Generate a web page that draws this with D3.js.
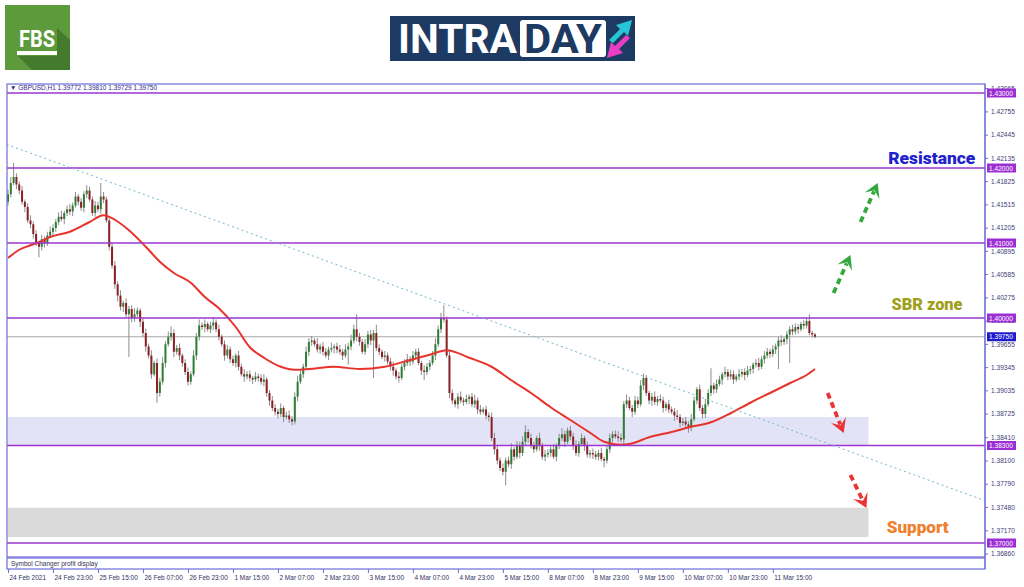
<!DOCTYPE html>
<html>
<head>
<meta charset="utf-8">
<script src="https://cdnjs.cloudflare.com/ajax/libs/d3/7.8.5/d3.min.js"></script>
<style>
body{margin:0;background:#fff;}
svg{display:block;}
</style>
</head>
<body>
<div id="chart"></div>
<script>
//GBPUSD H1 closes, in pips above 1.37000, one per bar (24 Feb 07:00 -> 12 Mar 06:00)
var firstOpen = 455;
var closes = [
465,480,488,478,470,455,448,430,425,412,400,395,405,400,410,415,
420,428,435,432,440,445,442,450,462,455,447,465,470,458,440,450,
445,462,458,430,395,370,345,330,315,320,305,312,300,305,310,295,
280,262,250,225,240,200,215,240,265,275,280,255,260,250,240,228,
215,225,250,275,290,288,292,285,290,294,285,275,265,250,258,245,
240,250,235,225,222,225,220,218,222,220,215,218,200,190,180,175,
172,180,168,170,165,162,195,215,225,235,255,268,270,265,258,262,
255,250,258,260,262,258,255,250,258,262,270,285,275,268,255,265,
278,270,280,260,255,248,250,242,235,230,222,220,235,240,245,242,
250,255,240,230,228,235,240,250,265,285,300,298,250,200,190,185,
195,190,188,192,195,185,190,178,175,178,170,168,140,125,110,100,
95,110,105,125,115,130,120,135,148,140,130,125,140,130,115,118,
120,125,115,130,140,145,135,150,142,130,120,132,140,130,118,120,
118,115,120,112,110,125,140,145,142,140,138,185,190,180,175,190,
185,210,220,200,190,195,188,192,190,180,185,178,175,170,168,160,
162,158,155,165,190,205,180,172,185,200,210,205,212,218,225,228,
222,225,218,222,225,228,224,230,232,238,240,235,245,250,255,252,
258,262,270,268,272,278,285,282,288,285,292,290,296,280,278,275];

//upper wick above the body, in pips
var wickUp = [
6,8,19,5,4,6,3,5,7,4,5,3,6,4,5,7,
5,4,6,8,3,5,7,4,6,3,5,4,7,5,4,6,
5,18,6,4,3,5,6,4,7,3,6,4,5,8,4,3,
5,6,4,7,3,6,5,8,4,7,9,5,4,6,3,5,
6,4,7,5,8,4,6,3,5,7,4,6,3,5,6,4,
5,3,6,4,7,4,5,3,6,4,5,7,3,4,6,5,
4,6,3,5,7,4,6,8,5,4,7,5,6,3,8,4,
6,5,4,7,3,5,6,4,7,5,8,6,20,5,4,7,
5,6,4,11,5,3,6,4,5,7,3,6,4,5,7,4,
6,4,5,3,7,5,4,6,8,5,7,17,4,6,5,3,
5,7,4,6,3,5,8,4,6,3,5,4,6,7,5,4,
6,4,5,8,3,6,5,7,9,4,6,5,3,7,4,6,
5,4,7,3,6,8,5,4,6,5,7,4,6,3,5,4,
6,5,4,7,3,5,6,4,5,7,6,4,8,5,4,6,
5,7,6,4,3,5,7,4,6,5,3,6,4,5,7,4,
5,6,4,7,5,3,6,4,7,5,23,4,6,5,3,7,
4,6,5,3,7,4,5,6,4,3,5,7,4,6,5,4,
6,4,5,7,3,5,4,6,5,4,3,5,4,9,3,2];

//lower wick below the body, in pips
var wickDn = [
5,4,3,6,5,4,7,3,5,6,4,14,5,6,4,3,
6,5,4,3,7,4,5,6,3,5,4,6,5,3,4,5,
4,6,5,3,5,4,6,8,5,7,4,57,6,5,4,7,
5,7,4,6,3,13,5,4,6,3,5,7,4,6,5,4,
5,4,3,6,5,4,7,3,5,6,4,5,3,7,4,5,
4,6,5,3,7,4,5,6,3,5,4,6,5,7,4,5,
6,4,7,3,5,5,4,6,3,5,4,6,5,3,4,6,
5,3,6,4,7,5,4,6,3,20,5,4,6,5,3,4,
5,6,50,4,5,3,6,4,5,7,4,6,3,5,4,6,
4,5,3,6,11,4,5,3,6,4,5,4,3,7,5,4,
6,4,5,3,7,4,5,6,4,3,5,6,4,7,5,4,
5,18,4,6,5,3,7,4,5,6,4,5,3,7,4,6,
4,5,3,6,5,4,7,3,5,6,4,5,3,7,4,5,
6,4,5,3,9,4,5,6,3,5,4,6,5,3,7,4,
5,3,6,4,5,7,4,5,3,6,4,5,3,7,4,6,
4,5,8,6,3,5,4,6,5,3,4,6,5,3,7,4,
5,4,6,3,5,4,7,3,5,6,4,5,3,6,4,5,
4,6,30,5,4,7,38,5,4,6,3,5,4,3,4,2];

//red moving average, read at these bars (pips above 1.37000)
var maBars = [0,4,8,11,15,22,29,34,38,43,49,54,59,65,70,75,81,86,91,97,102,107,116,125,134,143,150,156,164,172,179,186,193,200,207,212,218,221,228,236,243,250,257,264,271,278,284,287];
var maPips = [380,391,397,401,408,415,428,437,431,417,395,375,360,347,328,313,288,261,247,235,231,232,235,232,235,244,251,257,247,235,217,200,181,164,147,135,131,132,141,148,155,161,173,187,200,213,224,232];

var tickPrices = [1.43065,1.42755,1.42445,1.42135,1.41825,1.41515,1.41205,1.40895,1.40585,1.40275,1.39965,1.39655,1.39345,1.39035,1.38725,1.38410,1.38100,1.37790,1.37480,1.37170,1.36860];
var levels = [1.43,1.42,1.41,1.40,1.383,1.37];
var lastPrice = 1.3975;
var timeBars = [0,16,32,48,64,80,96,112,128,144,160,176,192,208,224,240,256,272];
var timeLabels = ["24 Feb 2021","24 Feb 23:00","25 Feb 15:00","26 Feb 07:00","26 Feb 23:00","1 Mar 15:00","2 Mar 07:00","2 Mar 23:00","3 Mar 15:00","4 Mar 07:00","4 Mar 23:00","5 Mar 15:00","8 Mar 07:00","8 Mar 23:00","9 Mar 15:00","10 Mar 07:00","10 Mar 23:00","11 Mar 15:00"];

//zones and trend line
var blueZone = [1.3830,1.3868];
var greyZone = [1.3708,1.3747];
var zoneEndBar = 306;
var trendBars = [-0.5,348];
var trendPrices = [1.42314,1.37557];

//dashed arrows: [bar0, price0, bar1, price1]
var greenArrows = [[293.6,1.40333,299.6,1.40840],[303.2,1.41280,309.3,1.41800]];
var redArrows = [[291.5,1.39000,297.2,1.38467],[299.6,1.37907,305.3,1.37467]];

var width = 1024, height = 587;
var svg = d3.select("#chart").append("svg")
.attr("width", width)
.attr("height", height);

var x = d3.scaleLinear().domain([0,287]).range([8,815]);
var y = d3.scaleLinear().domain([1.37,1.43]).range([543,93]);
var pip = function(p){ return 1.37 + p/10000; };

//plot window edges (window.top is reserved, so own names)
var pLeft = 7, pRight = 985, pTop = 84, pBottom = 557;

svg.append("clipPath").attr("id","plot")
.append("rect")
.attr("x",pLeft).attr("y",pTop)
.attr("width",pRight-pLeft).attr("height",pBottom-pTop);

var plot = svg.append("g").attr("clip-path","url(#plot)");

//zones
plot.append("rect")
.attr("x",pLeft+1).attr("y",y(blueZone[1]))
.attr("width",x(zoneEndBar)-pLeft-1)
.attr("height",y(blueZone[0])-y(blueZone[1]))
.style("fill","#e3e3f7");
plot.append("rect")
.attr("x",pLeft+1).attr("y",y(greyZone[1]))
.attr("width",x(zoneEndBar)-pLeft-1)
.attr("height",y(greyZone[0])-y(greyZone[1]))
.style("fill","#dadada");

//current price line
plot.append("line")
.attr("x1",pLeft).attr("x2",pRight)
.attr("y1",y(lastPrice)).attr("y2",y(lastPrice))
.style("stroke","#a8a8a8").style("stroke-width",1);

//build the candles
var bars = closes.map(function(c,i){
	var o = i==0 ? firstOpen : closes[i-1];
	return {i:i, o:pip(o), c:pip(c), h:pip(Math.max(o,c)+wickUp[i]), l:pip(Math.min(o,c)-wickDn[i])};
});

var candle = plot.append("g").selectAll("g")
.data(bars).enter().append("g");
candle.append("line")
.attr("x1",function(d){ return x(d.i); })
.attr("x2",function(d){ return x(d.i); })
.attr("y1",function(d){ return y(d.h); })
.attr("y2",function(d){ return y(d.l); })
.style("stroke","#8c8c8c").style("stroke-width",1);
candle.append("rect")
.attr("x",function(d){ return x(d.i)-1; })
.attr("width",2)
.attr("y",function(d){ return y(Math.max(d.o,d.c)); })
.attr("height",function(d){ return Math.max(1, Math.abs(y(d.o)-y(d.c))); })
.style("fill",function(d){ return d.c>=d.o ? "#2f7d34" : "#8a1f24"; });

//moving average
var ma = maBars.map(function(b,i){ return [b, pip(maPips[i])]; });
plot.append("path")
.datum(ma)
.attr("d", d3.line().x(function(d){ return x(d[0]); }).y(function(d){ return y(d[1]); }).curve(d3.curveMonotoneX))
.style("fill","none").style("stroke","#e8322c").style("stroke-width",2);

//horizontal levels
plot.selectAll(".level").data(levels).enter().append("line")
.attr("x1",pLeft).attr("x2",pRight)
.attr("y1",function(d){ return y(d); })
.attr("y2",function(d){ return y(d); })
.style("stroke","#9a36cf").style("stroke-width",1.6);

//trend line
plot.append("line")
.attr("x1",x(trendBars[0])).attr("y1",y(trendPrices[0]))
.attr("x2",x(trendBars[1])).attr("y2",y(trendPrices[1]))
.style("stroke","#74b6cc").style("stroke-width",1)
.style("stroke-dasharray","2,3");

//dashed arrows
function arrow(a, color){
	var x0 = x(a[0]), y0 = y(a[1]), x1 = x(a[2]), y1 = y(a[3]);
	var ang = Math.atan2(y1-y0, x1-x0);
	var bx = x1 - 9*Math.cos(ang), by = y1 - 9*Math.sin(ang);
	plot.append("line")
	.attr("x1",x0).attr("y1",y0).attr("x2",bx).attr("y2",by)
	.style("stroke",color).style("stroke-width",3.8)
	.style("stroke-dasharray","6,4");
	var pts = [[0,0],[-14,-8],[-8,0],[-14,8]].map(function(p){
		return [x1 + p[0]*Math.cos(ang) - p[1]*Math.sin(ang), y1 + p[0]*Math.sin(ang) + p[1]*Math.cos(ang)];
	});
	plot.append("polygon")
	.attr("points",pts.map(function(p){ return p.join(","); }).join(" "))
	.style("fill",color);
}
greenArrows.forEach(function(a){ arrow(a,"#33a83e"); });
redArrows.forEach(function(a){ arrow(a,"#ea3434"); });

//annotation texts
var notes = [
	{text:"Resistance", bar:344, price:1.4205, anchor:"end", color:"#2222cc", len:87},
	{text:"SBR zone", bar:314.2, price:1.4011, anchor:"start", color:"#9f9f1c", len:71},
	{text:"Support", bar:312.5, price:1.3714, anchor:"start", color:"#f0802e", len:62}
];
svg.selectAll(".note").data(notes).enter().append("text")
.attr("x",function(d){ return x(d.bar); })
.attr("y",function(d){ return y(d.price); })
.attr("text-anchor",function(d){ return d.anchor; })
.attr("textLength",function(d){ return d.len; })
.attr("lengthAdjust","spacingAndGlyphs")
.style("font-family","Roboto, sans-serif")
.style("font-weight","900")
.style("font-size","17px")
.style("fill",function(d){ return d.color; })
.text(function(d){ return d.text; });

//frame
svg.append("rect")
.attr("x",pLeft).attr("y",pTop)
.attr("width",pRight-pLeft).attr("height",pBottom-pTop)
.style("fill","none").style("stroke","#6d6ddc").style("stroke-width",1.2);
svg.append("rect")
.attr("x",pLeft).attr("y",pBottom+1)
.attr("width",pRight-pLeft).attr("height",11)
.style("fill","none").style("stroke","#6d6ddc").style("stroke-width",1.2);
svg.append("text")
.attr("x",11).attr("y",pBottom+9)
.style("font-family","Liberation Sans, sans-serif").style("font-size","6.5px")
.style("fill","#333355")
.text("Symbol Changer profit display");

//header
svg.append("text")
.attr("x",10).attr("y",90)
.style("font-family","Liberation Sans, sans-serif").style("font-size","6.5px")
.style("fill","#2c2c88")
.text("\u25BC GBPUSD,H1  1.39772 1.39810 1.39729 1.39750");

//price axis
var yAxis = svg.append("g")
.attr("transform","translate("+pRight+",0)")
.call(d3.axisRight(y).tickValues(tickPrices).tickFormat(d3.format(".5f")).tickSize(3).tickPadding(3));
yAxis.select(".domain").attr("d","M0,"+pTop+"V"+(pBottom+12)).style("stroke","#6d6ddc");
yAxis.selectAll(".tick line").style("stroke","#6d6ddc");
yAxis.selectAll(".tick text")
.style("font-family","Liberation Sans, sans-serif").style("font-size","6.6px")
.style("fill","#3c3c78");

//level labels
var tags = levels.map(function(d){ return {v:d, c:"#9c2fd4"}; }).concat([{v:lastPrice, c:"#1c1ccc"}]);
var tag = svg.selectAll(".tag").data(tags).enter().append("g")
.attr("transform",function(d){ return "translate("+(pRight+2)+","+y(d.v)+")"; });
tag.append("rect")
.attr("x",0).attr("y",-4.5).attr("width",29).attr("height",9)
.style("fill",function(d){ return d.c; });
tag.append("text")
.attr("x",2).attr("y",2.5)
.style("font-family","Liberation Sans, sans-serif").style("font-size","6.6px")
.style("fill","#fff")
.text(function(d){ return d3.format(".5f")(d.v); });

//time axis
var xAxis = svg.append("g")
.attr("transform","translate(0,"+(pBottom+12)+")")
.call(d3.axisBottom(x).tickValues(timeBars).tickFormat(function(d,i){ return timeLabels[i]; }).tickSize(4));
xAxis.select(".domain").remove();
xAxis.selectAll(".tick line").style("stroke","#6d6ddc");
xAxis.selectAll(".tick text")
.attr("text-anchor","start").attr("x",1).attr("y",6)
.style("font-family","Liberation Sans, sans-serif").style("font-size","6.5px")
.style("fill","#333366");

//FBS logo
var fbs = svg.append("g");
fbs.append("rect").attr("x",5).attr("y",5).attr("width",65).attr("height",65).style("fill","#5d9a3c");
fbs.append("polygon").attr("points","18,56 57,56 57,28 70,40 70,70 32,70").style("fill","#447a2c");
fbs.append("text").attr("x",37).attr("y",47).attr("text-anchor","middle")
.style("font-family","Roboto, sans-serif").style("font-weight","700").style("font-size","24px")
.attr("textLength",36).attr("lengthAdjust","spacingAndGlyphs")
.style("fill","#fff").text("FBS");
fbs.append("rect").attr("x",17).attr("y",51).attr("width",40).attr("height",4).style("fill","#fff");

//INTRADAY logo
var logo = svg.append("g");
logo.append("rect").attr("x",390).attr("y",16).attr("width",245).attr("height",45).style("fill","#1d3a62");
logo.append("text").attr("x",398).attr("y",53)
.style("font-family","Roboto, sans-serif").style("font-weight","700").style("font-size","40px")
.attr("textLength",119).attr("lengthAdjust","spacingAndGlyphs")
.style("fill","#fff").text("INTRA");
logo.append("rect").attr("x",520).attr("y",20).attr("width",86).attr("height",37).attr("rx",3).style("fill","#fff");
logo.append("text").attr("x",524).attr("y",53)
.style("font-family","Roboto, sans-serif").style("font-weight","700").style("font-size","40px")
.attr("textLength",78).attr("lengthAdjust","spacingAndGlyphs")
.style("fill","#1d3a62").text("DAY");
logo.append("polygon").attr("points","609,40 620,29 616,25 632,20 628,36 624,32 613,43").style("fill","#26c6d6");
logo.append("polygon").attr("points","630,38 619,49 623,53 607,58 611,42 615,46 626,35").style("fill","#e83ec6");
</script>
</body>
</html>
